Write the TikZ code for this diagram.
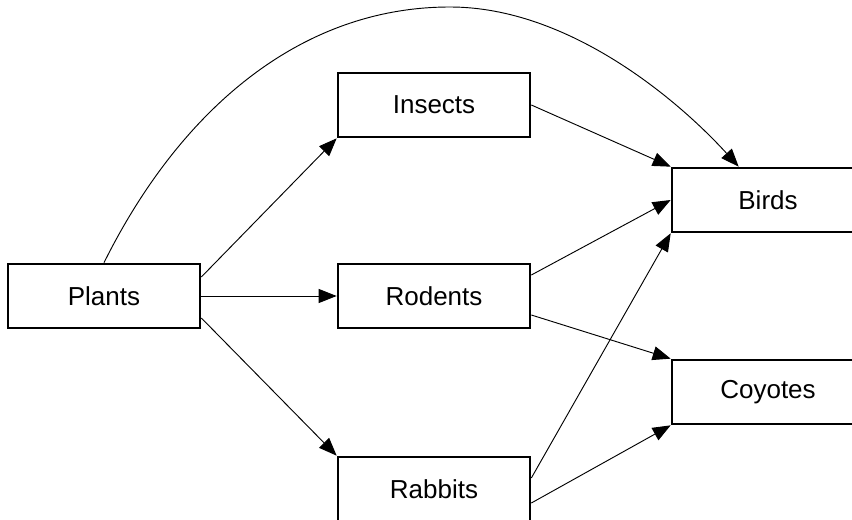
\documentclass[tikz,border=0pt]{standalone}
\usepackage{fontspec}
\setmainfont{Liberation Sans}
\usetikzlibrary{arrows.meta,calc}

\begin{document}
\begin{tikzpicture}[
    x=0.75pt, y=-0.75pt,
    species/.style={draw=black, line width=2pt, fill=white,
      minimum width=144pt, minimum height=48pt, inner sep=0pt,
      font=\fontsize{19.5}{22}\selectfont},
    feeds/.style={draw=black, line width=0.7pt,
      -{Triangle[length=13.5pt,width=10.5pt]}}
  ]
  \useasboundingbox (0,0) rectangle (852,520);
  \clip (0,0) rectangle (852,520);

  % species boxes
  \node[species] (plants)  at (104,296) {Plants};
  \node[species] (insects) at (434,105) {Insects};
  \node[species] (rodents) at (434,296) {Rodents};
  \node[species] (rabbits) at (434,489) {Rabbits};
  \node[species] (birds)   at (768,200) {Birds};
  \node[species] (coyotes) at (768,392) {Coyotes};

  % who eats what
  \draw[feeds] ($(plants.east)+(0,-19)$) -- (insects.south west);
  \draw[feeds] (plants.east) -- (rodents.west);
  \draw[feeds] ($(plants.east)+(0,22)$) -- (rabbits.north west);

  \draw[feeds] (plants.north)
    .. controls (180,110) and (300,7) .. (450,7)
    .. controls (570,7) and (680,102) .. ($(birds.north west)+(68,0)$);

  \draw[feeds] (insects.east) -- (birds.north west);
  \draw[feeds] ($(rodents.east)+(0,-21)$) -- (birds.west);
  \draw[feeds] ($(rodents.east)+(0,19)$) -- (coyotes.north west);
  \draw[feeds] ($(rabbits.east)+(0,-11)$) -- (birds.south west);
  \draw[feeds] ($(rabbits.east)+(0,14)$) -- (coyotes.south west);
\end{tikzpicture}
\end{document}
